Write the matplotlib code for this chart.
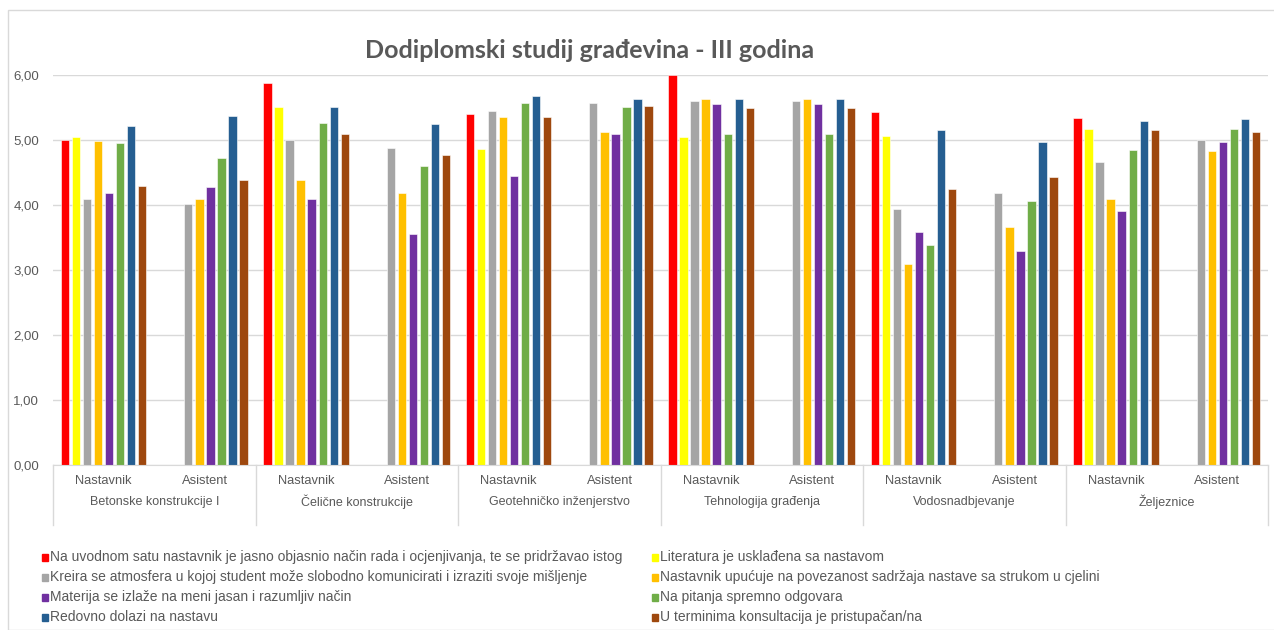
import numpy as np
import matplotlib
matplotlib.use("Agg")
import matplotlib.pyplot as plt
from matplotlib.patches import Rectangle
import matplotlib.transforms as mtransforms

subjects = ["Betonske konstrukcije I", "Čelične konstrukcije", "Geotehničko inženjerstvo",
            "Tehnologija građenja", "Vodosnadbjevanje", "Željeznice"]
roles = ["Nastavnik", "Asistent"]

series_names = [
    "Na uvodnom satu nastavnik je jasno objasnio način rada i ocjenjivanja, te se pridržavao istog",
    "Literatura je usklađena sa nastavom",
    "Kreira se atmosfera u kojoj student može slobodno komunicirati i izraziti svoje mišljenje",
    "Nastavnik upućuje na povezanost sadržaja nastave sa strukom u cjelini",
    "Materija se izlaže na meni jasan i razumljiv način",
    "Na pitanja spremno odgovara",
    "Redovno dolazi na nastavu",
    "U terminima konsultacija je pristupačan/na",
]
colors = ["#FF0000", "#FFFF00", "#A5A5A5", "#FFC000", "#7030A0", "#70AD47", "#255E91", "#9E480E"]

nan = np.nan
# order: (subject, role) pairs -> Nastavnik, Asistent for each subject
uvodni      = [5.00, nan, 5.87, nan, 5.40, nan, 6.00, nan, 5.43, nan, 5.34, nan]
literatura  = [5.05, nan, 5.51, nan, 4.86, nan, 5.05, nan, 5.06, nan, 5.17, nan]
atmosfera   = [4.09, 4.02, 5.00, 4.88, 5.44, 5.57, 5.60, 5.60, 3.94, 4.18, 4.66, 5.00]
povezanost  = [4.98, 4.09, 4.39, 4.18, 5.36, 5.12, 5.63, 5.63, 3.09, 3.66, 4.09, 4.83]
materija    = [4.19, 4.27, 4.10, 3.55, 4.45, 5.09, 5.55, 5.55, 3.58, 3.30, 3.91, 4.97]
pitanja     = [4.95, 4.72, 5.26, 4.60, 5.57, 5.51, 5.09, 5.09, 3.39, 4.06, 4.84, 5.17]
redovno     = [5.22, 5.37, 5.51, 5.25, 5.68, 5.63, 5.63, 5.63, 5.15, 4.97, 5.30, 5.32]
konsultacije = [4.30, 4.38, 5.09, 4.77, 5.36, 5.53, 5.50, 5.50, 4.25, 4.43, 5.15, 5.12]

series = [uvodni, literatura, atmosfera, povezanost, materija, pitanja, redovno, konsultacije]

text_color = "#595959"
grid_color = "#D9D9D9"
plt.rcParams["font.family"] = ["Liberation Sans", "DejaVu Sans"]

W, H = 1274, 630
fig = plt.figure(figsize=(W / 100, H / 100), dpi=100)
fig.patches.append(Rectangle((8 / W, 0), 1.2, 1 - 10 / H, transform=fig.transFigure,
                             fill=False, edgecolor=grid_color, linewidth=1))

left, right, top, bottom = 53, 1268, 75, 465
ax = fig.add_axes([left / W, 1 - bottom / H, (right - left) / W, (bottom - top) / H])

n_groups = len(subjects) * len(roles)
x = np.arange(n_groups)
slot = 0.109
bw = 0.082
for i, (vals, c) in enumerate(zip(series, colors)):
    ax.bar(x + (i - 3.5) * slot, vals, width=bw, color=c, edgecolor="white", linewidth=0.4)

ax.set_xlim(-0.5, n_groups - 0.5)
ax.set_ylim(0, 6)
ax.set_yticks(np.arange(0, 7, 1))
ax.set_yticklabels([f"{v:.2f}".replace(".", ",") for v in range(7)], color=text_color, fontsize=9.5)
ax.tick_params(axis="y", length=0, pad=10)
ax.tick_params(axis="x", length=0, labelbottom=False)
ax.grid(axis="y", color=grid_color, linewidth=1)
ax.set_axisbelow(True)
for s in ["top", "right", "left"]:
    ax.spines[s].set_visible(False)
ax.spines["bottom"].set_color(grid_color)

trans = mtransforms.blended_transform_factory(ax.transData, ax.transAxes)
ph = bottom - top
for g in range(n_groups):
    ax.text(g, -16 / ph, roles[g % 2], transform=trans, ha="center", va="center",
            color=text_color, fontsize=9.3)
for s, name in enumerate(subjects):
    ax.text(2 * s + 0.5, -37 / ph, name, transform=trans, ha="center", va="center",
            color=text_color, fontsize=9)
for s in range(len(subjects) + 1):
    ax.plot([2 * s - 0.5, 2 * s - 0.5], [0, -60 / ph], transform=trans, color=grid_color,
            linewidth=1, clip_on=False)

fig.text(590 / W, 1 - 50 / H, "Dodiplomski studij građevina - III godina", ha="center",
         va="center", fontsize=18, fontweight="bold", color=text_color, family="Lato")

# legend, two columns
col_x = [42, 652]
row_y = [557, 577, 597, 617]
for i, (name, c) in enumerate(zip(series_names, colors)):
    cx = col_x[i % 2]
    cy = row_y[i // 2]
    fig.patches.append(Rectangle((cx / W, 1 - (cy + 3.5) / H), 6 / W, 7 / H,
                                 transform=fig.transFigure, color=c))
    fig.text((cx + 8) / W, 1 - cy / H, name, ha="left", va="center",
             fontsize=10, color=text_color)

fig.savefig("out.png", dpi=100, facecolor="white")
